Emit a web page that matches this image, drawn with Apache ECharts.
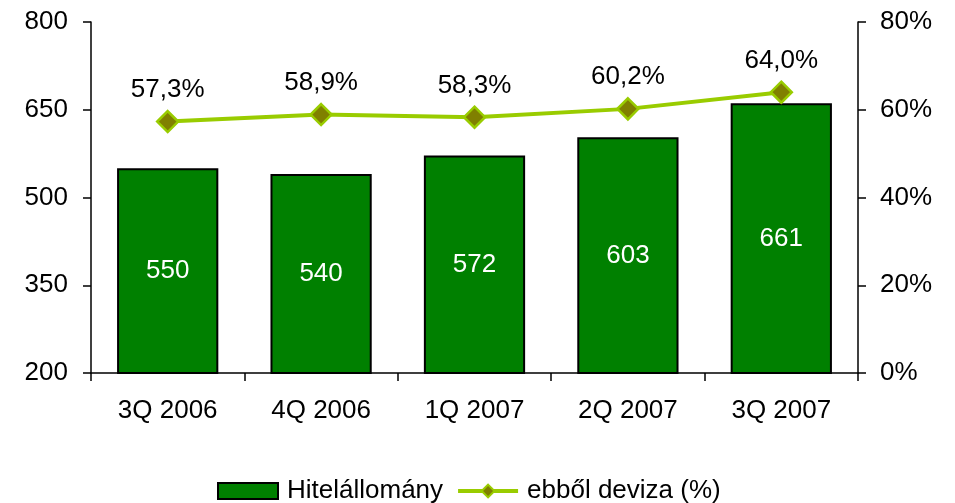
<!DOCTYPE html>
<html>
<head>
<meta charset="utf-8">
<script src="https://cdn.jsdelivr.net/npm/echarts@6/dist/echarts.min.js"></script>
<style>
    html, body { margin: 0; padding: 0; background: #fff; }
    #chart { width: 955px; height: 503px; }
</style>
</head>
<body>
<div id="chart"></div>
<script type="text/javascript">
    // adatok
    var categories = ['3Q 2006', '4Q 2006', '1Q 2007', '2Q 2007', '3Q 2007'];
    var hitelAllomany = [550, 540, 572, 603, 661];
    var devizaArany = [57.3, 58.9, 58.3, 60.2, 64.0];

    var fontFam = '"Liberation Sans", Arial, sans-serif';
    var fs = 26;

    var myChart = echarts.init(document.getElementById('chart'));

    var option = {
        animation: false,
        textStyle: { fontFamily: fontFam },
        grid: {
            left: 91,
            right: 97,
            top: 22,
            bottom: 130
        },
        legend: {
            top: 473,
            left: 212,
            itemWidth: 60,
            itemHeight: 16,
            itemGap: 13,
            textStyle: { fontSize: fs, color: '#000', fontFamily: fontFam, padding: [0, 0, 0, 4] },
            data: [
                { name: 'Hitelállomány', icon: 'rect' },
                { name: 'ebből deviza (%)', lineStyle: { width: 4 } }
            ]
        },
        xAxis: {
            type: 'category',
            data: categories,
            axisLine: { lineStyle: { color: '#000', width: 1.5 } },
            axisTick: { show: true, alignWithLabel: false, length: 8, lineStyle: { color: '#000', width: 1.5 } },
            axisLabel: { fontSize: fs, color: '#000', margin: 25, fontFamily: fontFam }
        },
        yAxis: [
            {
                type: 'value',
                min: 200,
                max: 800,
                interval: 150,
                splitLine: { show: false },
                axisLine: { show: true, lineStyle: { color: '#000', width: 1.5 } },
                axisTick: { show: true, length: 8, lineStyle: { color: '#000', width: 1.5 } },
                axisLabel: { fontSize: fs, color: '#000', margin: 23, fontFamily: fontFam }
            },
            {
                type: 'value',
                min: 0,
                max: 80,
                interval: 20,
                position: 'right',
                splitLine: { show: false },
                axisLine: { show: true, lineStyle: { color: '#000', width: 1.5 } },
                axisTick: { show: true, length: 8, lineStyle: { color: '#000', width: 1.5 } },
                axisLabel: { fontSize: fs, color: '#000', margin: 22, formatter: '{value}%', fontFamily: fontFam }
            }
        ],
        series: [
            {
                name: 'Hitelállomány',
                type: 'bar',
                yAxisIndex: 0,
                barWidth: '66%',
                data: hitelAllomany,
                itemStyle: { color: '#008000', borderColor: '#000', borderWidth: 2 },
                label: {
                    show: true,
                    position: 'inside',
                    color: '#fff',
                    fontSize: fs,
                    fontFamily: fontFam
                }
            },
            {
                name: 'ebből deviza (%)',
                type: 'line',
                yAxisIndex: 1,
                data: devizaArany,
                symbol: 'diamond',
                symbolSize: 21,
                lineStyle: { color: '#99CC00', width: 4 },
                itemStyle: { color: '#808000', borderColor: '#99CC00', borderWidth: 2.5 },
                label: {
                    show: true,
                    position: 'top',
                    distance: 7,
                    color: '#000',
                    fontSize: fs,
                    fontFamily: fontFam,
                    formatter: function (p) {
                        return p.value.toFixed(1).replace('.', ',') + '%';
                    }
                }
            }
        ]
    };

    myChart.setOption(option);
</script>
</body>
</html>
